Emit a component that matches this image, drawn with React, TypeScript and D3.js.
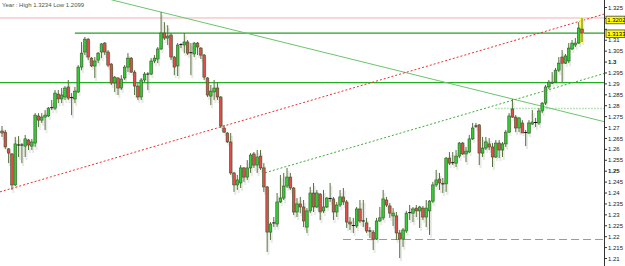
import React from 'react';
import * as d3 from 'd3';

const TITLE = 'Year : High 1.3234 Low 1.2099';

const OPEN = [1.2684,1.2679,1.2602,1.2579,1.2437,1.2620,1.2618,1.2615,1.2643,1.2615,1.2629,1.2753,1.2734,1.2748,1.2753,1.2789,1.2789,1.2853,1.2831,1.2840,1.2886,1.2835,1.2831,1.2863,1.2977,1.3046,1.3105,1.3018,1.2982,1.3009,
1.3046,1.3087,1.3046,1.2991,1.2904,1.2927,1.2881,1.2927,1.2977,1.3018,1.2954,1.2890,1.2840,1.2918,1.2945,1.2945,1.3005,1.3014,1.3060,1.3133,1.3110,1.3124,1.3023,1.2982,1.3078,1.3078,1.3092,1.3041,1.3037,1.3087,
1.3064,1.3032,1.2927,1.2844,1.2863,1.2881,1.2840,1.2698,1.2675,1.2634,1.2492,1.2437,1.2446,1.2515,1.2473,1.2515,1.2579,1.2528,1.2569,1.2515,1.2428,1.2221,1.2261,1.2258,1.2359,1.2377,1.2432,1.2473,1.2423,1.2313,
1.2350,1.2336,1.2244,1.2318,1.2400,1.2336,1.2395,1.2318,1.2336,1.2373,1.2373,1.2313,1.2345,1.2382,1.2359,1.2267,1.2251,1.2249,1.2327,1.2272,1.2263,1.2226,1.2221,1.2189,1.2272,1.2286,1.2368,1.2341,1.2295,1.2295,1.2217,
1.2189,1.2226,1.2308,1.2308,1.2331,1.2318,1.2331,1.2290,1.2318,1.2363,1.2437,1.2464,1.2442,1.2442,1.2560,1.2537,1.2537,1.2569,1.2629,1.2579,1.2588,1.2648,1.2707,1.2712,1.2583,1.2606,1.2625,1.2611,1.2565,1.2629,
1.2597,1.2625,1.2679,1.2785,1.2748,1.2698,1.2721,1.2675,1.2675,1.2716,1.2721,1.2721,1.2776,1.2812,1.2886,1.2904,1.2908,1.2963,1.3023,1.2995,1.3005,1.3060,1.3078,1.3087,1.3151];

const HIGH = [1.2707,1.2689,1.2606,1.2583,1.2657,1.2661,1.2629,1.2666,1.2648,1.2648,1.2766,1.2766,1.2766,1.2780,1.2794,1.2826,1.2872,1.2872,1.2881,1.2890,1.2918,1.2858,1.2886,1.2986,1.3092,1.3115,1.3110,1.3023,1.3023,1.3046,
1.3087,1.3092,1.3055,1.2995,1.2936,1.2931,1.2940,1.2986,1.3041,1.3023,1.2963,1.2904,1.2927,1.2954,1.2954,1.3018,1.3032,1.3069,1.3229,1.3183,1.3169,1.3133,1.3028,1.3087,1.3087,1.3133,1.3101,1.3087,1.3092,1.3092,
1.3069,1.3037,1.2931,1.2895,1.2918,1.2908,1.2844,1.2712,1.2679,1.2675,1.2497,1.2483,1.2528,1.2519,1.2551,1.2583,1.2588,1.2597,1.2597,1.2537,1.2432,1.2267,1.2290,1.2400,1.2483,1.2492,1.2515,1.2492,1.2428,1.2377,
1.2382,1.2368,1.2331,1.2428,1.2446,1.2414,1.2400,1.2414,1.2382,1.2446,1.2382,1.2359,1.2414,1.2423,1.2368,1.2290,1.2286,1.2336,1.2368,1.2368,1.2286,1.2244,1.2231,1.2286,1.2336,1.2414,1.2382,1.2354,1.2331,1.2313,1.2231,
1.2240,1.2318,1.2345,1.2336,1.2345,1.2341,1.2341,1.2368,1.2368,1.2451,1.2506,1.2492,1.2469,1.2565,1.2588,1.2588,1.2597,1.2634,1.2634,1.2611,1.2666,1.2721,1.2721,1.2716,1.2657,1.2657,1.2652,1.2629,1.2643,1.2643,
1.2634,1.2689,1.2766,1.2831,1.2757,1.2748,1.2734,1.2689,1.2734,1.2780,1.2744,1.2789,1.2817,1.2895,1.2918,1.2954,1.2973,1.3023,1.3055,1.3037,1.3087,1.3101,1.3110,1.3183,1.3202];

const LOW = [1.2657,1.2602,1.2537,1.2414,1.2432,1.2565,1.2537,1.2565,1.2597,1.2597,1.2611,1.2702,1.2721,1.2689,1.2748,1.2780,1.2780,1.2812,1.2812,1.2826,1.2826,1.2757,1.2812,1.2858,1.2963,1.3032,1.3009,1.2977,1.2927,1.2995,
1.3018,1.3032,1.2977,1.2895,1.2863,1.2849,1.2872,1.2918,1.2954,1.2950,1.2849,1.2826,1.2826,1.2908,1.2872,1.2940,1.2995,1.2995,1.3055,1.3101,1.3078,1.3009,1.2940,1.2936,1.3064,1.3041,1.3032,1.2940,1.3023,1.3032,
1.3014,1.2918,1.2840,1.2803,1.2826,1.2826,1.2698,1.2675,1.2629,1.2483,1.2405,1.2414,1.2423,1.2451,1.2460,1.2492,1.2515,1.2492,1.2506,1.2405,1.2130,1.2185,1.2244,1.2244,1.2354,1.2368,1.2423,1.2414,1.2299,1.2290,
1.2308,1.2244,1.2217,1.2308,1.2313,1.2331,1.2276,1.2308,1.2331,1.2359,1.2276,1.2290,1.2336,1.2345,1.2240,1.2231,1.2217,1.2240,1.2263,1.2244,1.2217,1.2194,1.2139,1.2185,1.2267,1.2276,1.2336,1.2286,1.2249,1.2185,1.2102,
1.2153,1.2217,1.2276,1.2267,1.2290,1.2240,1.2276,1.2244,1.2208,1.2354,1.2428,1.2414,1.2400,1.2405,1.2528,1.2528,1.2519,1.2560,1.2574,1.2542,1.2583,1.2643,1.2698,1.2528,1.2565,1.2597,1.2597,1.2519,1.2560,1.2560,
1.2565,1.2611,1.2675,1.2744,1.2679,1.2679,1.2675,1.2615,1.2670,1.2712,1.2702,1.2712,1.2766,1.2803,1.2876,1.2899,1.2904,1.2954,1.2908,1.2991,1.2995,1.3055,1.3069,1.3083,1.3092];

const CLOSE = [1.2675,1.2611,1.2583,1.2437,1.2625,1.2618,1.2620,1.2648,1.2620,1.2634,1.2757,1.2734,1.2748,1.2757,1.2789,1.2791,1.2858,1.2831,1.2849,1.2881,1.2835,1.2837,1.2867,1.2977,1.3041,1.3105,1.3023,1.2982,1.3005,1.3041,
1.3083,1.3046,1.2986,1.2904,1.2931,1.2881,1.2922,1.2977,1.3018,1.2954,1.2890,1.2840,1.2918,1.2945,1.2943,1.3005,1.3018,1.3060,1.3133,1.3110,1.3119,1.3023,1.2977,1.3078,1.3080,1.3092,1.3041,1.3043,1.3087,1.3069,
1.3032,1.2931,1.2849,1.2867,1.2881,1.2840,1.2707,1.2679,1.2634,1.2492,1.2437,1.2460,1.2515,1.2473,1.2515,1.2574,1.2528,1.2565,1.2515,1.2428,1.2221,1.2258,1.2263,1.2359,1.2377,1.2432,1.2473,1.2423,1.2313,1.2350,
1.2336,1.2272,1.2318,1.2400,1.2336,1.2400,1.2313,1.2336,1.2377,1.2375,1.2313,1.2345,1.2382,1.2359,1.2267,1.2258,1.2249,1.2327,1.2272,1.2270,1.2226,1.2224,1.2189,1.2272,1.2286,1.2373,1.2345,1.2308,1.2308,1.2217,1.2189,
1.2231,1.2308,1.2310,1.2327,1.2318,1.2336,1.2290,1.2331,1.2363,1.2437,1.2460,1.2446,1.2440,1.2560,1.2537,1.2539,1.2569,1.2629,1.2579,1.2592,1.2648,1.2698,1.2705,1.2583,1.2606,1.2634,1.2611,1.2565,1.2629,1.2597,
1.2625,1.2679,1.2753,1.2748,1.2698,1.2744,1.2675,1.2677,1.2721,1.2725,1.2723,1.2776,1.2812,1.2886,1.2908,1.2908,1.2963,1.2995,1.2995,1.3028,1.3064,1.3087,1.3087,1.3156,1.3133];

const Y_TICKS = d3.range(0, 24).map((k) => +(1.21 + k * 0.005).toFixed(3));
const BOLD_TICKS = [1.25, 1.3];
// tick labels covered by the price boxes in the reference
const HIDDEN_TICK_LABELS = [1.315, 1.32];

// horizontal levels
const LEVEL_PINK = 1.3202;
const LEVEL_CLOSE = 1.3133;
const LEVEL_TOP_START = 22;
const LEVEL_MID = 1.2906;
const LEVEL_LOW = 1.2187;
const LEVEL_LOW_START = 102.9;
const LEVEL_DOT = 1.2787;
const LEVEL_DOT_START = 148.8;

// trend lines: [index, price] anchor pairs
const TREND_DOWN = [[48, 1.3229], [154, 1.2831]];
const TREND_RED = [[0, 1.2408], [175, 1.319]];
const TREND_GREEN = [[79.4, 1.2493], [175, 1.2918]];

export default function App() {
  const W = 625, H = 266, AXIS_X = 604;
  const n = OPEN.length;
  const x = d3.scaleLinear().domain([0, n - 1]).range([2, 582]);
  const y = d3.scaleLinear().domain([1.21, 1.325]).range([258.5, 7.5]);
  const axisIdx = x.invert(AXIS_X);

  const trend = (a: number[][], from: number, to: number) => {
    const s = (a[1][1] - a[0][1]) / (a[1][0] - a[0][0]);
    const p = (i: number) => a[0][1] + s * (i - a[0][0]);
    return { x1: x(from), y1: y(p(from)), x2: x(to), y2: y(p(to)) };
  };
  const tDown = trend(TREND_DOWN, 33, axisIdx);
  const tRed = trend(TREND_RED, x.invert(0), axisIdx);
  const tGreen = trend(TREND_GREEN, TREND_GREEN[0][0], axisIdx);

  const font = '"Liberation Sans", Arial, sans-serif';
  const bw = 2.6;

  return (
    <svg width={W} height={H} style={{ position: 'fixed', left: 0, top: 0, background: '#fff' }}>
      <rect x={0} y={0} width={W} height={H} fill="#fff" />
      {/* shadows */}
      {OPEN.map((o, i) => (
        <rect key={'s' + i} x={x(i) + 0.3} y={y(HIGH[i]) + 3} width={2} height={Math.max(1, y(LOW[i]) - y(HIGH[i]))} fill="#c2cabb" opacity={0.4} />
      ))}
      {/* levels */}
      <line x1={0} x2={AXIS_X} y1={y(LEVEL_PINK)} y2={y(LEVEL_PINK)} stroke="#f3b0b0" strokeWidth={1} />
      <line x1={x(LEVEL_TOP_START)} x2={AXIS_X} y1={y(LEVEL_CLOSE)} y2={y(LEVEL_CLOSE)} stroke="#22a022" strokeWidth={1.3} />
      <line x1={0} x2={AXIS_X} y1={y(LEVEL_MID)} y2={y(LEVEL_MID)} stroke="#22b022" strokeWidth={1.3} />
      <line x1={x(LEVEL_LOW_START)} x2={AXIS_X} y1={y(LEVEL_LOW)} y2={y(LEVEL_LOW)} stroke="#6cbc6c" strokeWidth={1} strokeDasharray="8,4" />
      <line x1={x(LEVEL_DOT_START)} x2={AXIS_X} y1={y(LEVEL_DOT)} y2={y(LEVEL_DOT)} stroke="#a8dca8" strokeWidth={1.5} strokeDasharray="1.5,1.5" />
      <line {...tDown} stroke="#6cc46c" strokeWidth={1} />
      <line {...tRed} stroke="#ee3030" strokeWidth={1} strokeDasharray="2,2" />
      <line {...tGreen} stroke="#3aae3a" strokeWidth={1} strokeDasharray="2,2" />
      {/* last candle highlight */}
      <rect x={x(n - 1) - 2} y={y(HIGH[n - 1]) - 1} width={4} height={y(LOW[n - 1]) - y(HIGH[n - 1]) + 2} fill="#ffff30" opacity={0.85} />
      {/* candles */}
      {OPEN.map((o, i) => {
        const c = CLOSE[i];
        const cx = x(i);
        const doji = Math.abs(o - c) < 0.0003;
        const top = y(Math.max(o, c));
        const bot = y(Math.min(o, c));
        return (
          <g key={i}>
            <line x1={cx} x2={cx} y1={y(HIGH[i])} y2={y(LOW[i])} stroke="#56703c" strokeWidth={1} />
            {doji ? (
              <line x1={cx - 1.6} x2={cx + 1.6} y1={top} y2={top} stroke="#111" strokeWidth={1} />
            ) : (
              <rect x={cx - bw / 2} y={top} width={bw} height={Math.max(1, bot - top)} fill={c > o ? '#33cc33' : '#e44c4c'} stroke="#35552a" strokeWidth={0.6} />
            )}
          </g>
        );
      })}
      {/* axis */}
      <line x1={AXIS_X + 0.5} x2={AXIS_X + 0.5} y1={0} y2={H} stroke="#333" strokeWidth={1} />
      {Y_TICKS.map((t) => (
        <g key={t}>
          <line x1={AXIS_X} x2={AXIS_X + 3} y1={y(t)} y2={y(t)} stroke="#333" strokeWidth={1} />
          {!HIDDEN_TICK_LABELS.includes(t) && (
            <text x={AXIS_X + 4} y={y(t)} dy="0.35em" fontSize={6} fontFamily={font} fill="#222" fontWeight={BOLD_TICKS.includes(t) ? 'bold' : 'normal'}>
              {d3.format('')(t)}
            </text>
          )}
        </g>
      ))}
      {[{ v: LEVEL_PINK, off: 2 }, { v: LEVEL_CLOSE, off: 0.7 }].map((b) => (
        <g key={b.v}>
          <rect x={AXIS_X + 2} y={y(b.v) + b.off - 3.8} width={19} height={7.6} fill="#ffff00" stroke="#444" strokeWidth={0.8} />
          <text x={AXIS_X + 3.2} y={y(b.v) + b.off} dy="0.35em" fontSize={6} fontFamily={font} fill="#000">
            {b.v.toFixed(4)}
          </text>
        </g>
      ))}
      <text x={2} y={4.5} dy="0.35em" fontSize={6} fontFamily={font} fill="#4c574c">{TITLE}</text>
    </svg>
  );
}
